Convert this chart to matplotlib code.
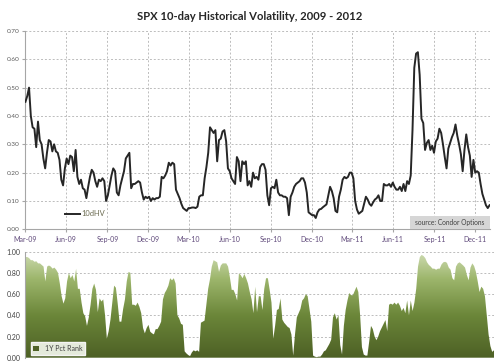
import numpy as np
import pandas as pd
import matplotlib
matplotlib.use("Agg")
import matplotlib.pyplot as plt
import matplotlib.dates as mdates
from matplotlib.colors import LinearSegmentedColormap
from matplotlib.patches import Patch, Rectangle
from matplotlib.ticker import FormatStrFormatter

plt.rcParams['font.family'] = ['Lato', 'DejaVu Sans']

# values on a 4-day grid
dates = pd.date_range('2009-03-02', periods=260, freq='4D')

hv10 = [
    0.45, 0.47, 0.50, 0.40, 0.36, 0.355, 0.29, 0.38, 0.315, 0.30,
    0.25, 0.215, 0.27, 0.315, 0.31, 0.275, 0.30, 0.275, 0.27, 0.245,
    0.175, 0.155, 0.215, 0.25, 0.23, 0.26, 0.255, 0.205, 0.28, 0.185,
    0.16, 0.175, 0.145, 0.14, 0.11, 0.15, 0.185, 0.21, 0.20, 0.17,
    0.15, 0.175, 0.17, 0.18, 0.17, 0.10, 0.12, 0.155, 0.19, 0.215,
    0.205, 0.13, 0.12, 0.155, 0.18, 0.205, 0.25, 0.26, 0.27, 0.145,
    0.16, 0.16, 0.165, 0.17, 0.165,
    0.13, 0.105, 0.115, 0.11, 0.115, 0.10, 0.11, 0.105, 0.11, 0.11,
    0.115, 0.185, 0.18, 0.19, 0.205, 0.235, 0.225, 0.235, 0.23, 0.14,
    0.125, 0.11, 0.09, 0.075, 0.07, 0.065, 0.075, 0.075, 0.077, 0.077,
    0.075, 0.08, 0.115, 0.12, 0.12, 0.18, 0.22, 0.27, 0.36, 0.35,
    0.34, 0.35, 0.24, 0.315, 0.32, 0.345, 0.35, 0.31, 0.215, 0.205,
    0.18, 0.17, 0.16, 0.255, 0.24, 0.17, 0.24, 0.23, 0.24, 0.155,
    0.17, 0.15, 0.20, 0.18,
    0.185, 0.175, 0.22, 0.23, 0.23, 0.21, 0.12, 0.085, 0.145, 0.15,
    0.145, 0.175, 0.13, 0.12, 0.12, 0.115, 0.115, 0.11, 0.05, 0.115,
    0.13, 0.15, 0.16, 0.165, 0.17, 0.18, 0.18, 0.165, 0.13, 0.06,
    0.055, 0.05, 0.05, 0.04, 0.06, 0.07, 0.072, 0.078, 0.083, 0.088,
    0.12, 0.15, 0.135, 0.11, 0.065, 0.06, 0.115, 0.14, 0.175, 0.185,
    0.18, 0.185, 0.20, 0.20, 0.18, 0.10, 0.07, 0.055, 0.06, 0.065,
    0.09, 0.115, 0.105, 0.09,
    0.083, 0.095, 0.105, 0.11, 0.12, 0.10, 0.10, 0.16, 0.155, 0.155,
    0.16, 0.15, 0.165, 0.15, 0.14, 0.14, 0.15, 0.135, 0.16, 0.135,
    0.17, 0.16, 0.19, 0.35, 0.57, 0.62, 0.625, 0.545, 0.39, 0.375,
    0.28, 0.305, 0.315, 0.28, 0.295, 0.27, 0.31, 0.32, 0.355, 0.34,
    0.30, 0.255, 0.215, 0.285, 0.305, 0.325, 0.34, 0.37, 0.33, 0.30,
    0.265, 0.205, 0.28, 0.335, 0.29, 0.26, 0.185, 0.245, 0.20, 0.205,
    0.20, 0.16, 0.125, 0.105, 0.085, 0.075, 0.085,
]

pct_rank = [
    0.95, 0.95, 0.94, 0.92, 0.92, 0.905, 0.91, 0.89, 0.89, 0.875,
    0.86, 0.72, 0.86, 0.87, 0.86, 0.84, 0.85, 0.83, 0.80, 0.70,
    0.58, 0.51, 0.56, 0.72, 0.80, 0.75, 0.78, 0.72, 0.84, 0.65,
    0.65, 0.52, 0.42, 0.39, 0.30, 0.38, 0.50, 0.65, 0.70, 0.64,
    0.43, 0.56, 0.53, 0.55, 0.40, 0.18, 0.25, 0.36, 0.52, 0.68,
    0.66, 0.51, 0.34, 0.34, 0.46, 0.55, 0.72, 0.81, 0.80, 0.50,
    0.50, 0.49, 0.52, 0.48, 0.42,
    0.28, 0.23, 0.28, 0.31, 0.245, 0.23, 0.22, 0.27, 0.27, 0.30,
    0.34, 0.55, 0.61, 0.64, 0.68, 0.75, 0.73, 0.75, 0.70, 0.40,
    0.37, 0.32, 0.31, 0.06, 0.04, 0.025, 0.015, 0.05, 0.07, 0.06,
    0.07, 0.055, 0.33, 0.34, 0.35, 0.50, 0.65, 0.74, 0.86, 0.92,
    0.91, 0.90, 0.81, 0.87, 0.89, 0.89, 0.89, 0.86, 0.76, 0.64,
    0.64, 0.60, 0.54, 0.795, 0.78, 0.75, 0.79, 0.75, 0.70, 0.62,
    0.55, 0.42, 0.67, 0.43,
    0.58, 0.58, 0.45, 0.65, 0.75, 0.75, 0.64, 0.52, 0.18, 0.30,
    0.45, 0.46, 0.56, 0.36, 0.33, 0.31, 0.29, 0.28, 0.22, 0.02,
    0.22, 0.38, 0.42, 0.46, 0.54, 0.56, 0.60, 0.58, 0.46, 0.34,
    0.02, 0.01, 0.005, 0.01, 0.01, 0.03, 0.06, 0.07, 0.10, 0.13,
    0.17, 0.38, 0.42, 0.36, 0.40, 0.12, 0.03, 0.30, 0.45, 0.54,
    0.61, 0.59, 0.59, 0.63, 0.67, 0.62, 0.40, 0.10, 0.03, 0.02,
    0.02, 0.15, 0.30, 0.27,
    0.20, 0.165, 0.20, 0.25, 0.285, 0.32, 0.355, 0.25, 0.50, 0.51,
    0.50, 0.52, 0.50, 0.52, 0.49, 0.44, 0.47, 0.42, 0.54, 0.40,
    0.54, 0.44, 0.52, 0.65, 0.86, 0.95, 0.97, 0.96, 0.94, 0.90,
    0.875, 0.86, 0.84, 0.84, 0.83, 0.84, 0.84, 0.88, 0.90, 0.905,
    0.895, 0.85, 0.83, 0.75, 0.73, 0.86, 0.89, 0.90, 0.885, 0.87,
    0.85, 0.78, 0.73, 0.85, 0.89, 0.865, 0.81, 0.72, 0.62, 0.67,
    0.65, 0.58, 0.40, 0.22, 0.11, 0.055, 0.07,
]

quarter_ticks = pd.date_range('2009-03-01', '2011-12-01', freq='3MS')
tick_labels = [d.strftime('%b-%y') for d in quarter_ticks]

x = mdates.date2num(dates)
x_start = mdates.date2num(pd.Timestamp('2009-03-01'))
x_end = mdates.date2num(pd.Timestamp('2012-01-03'))

fig = plt.figure(figsize=(5, 3.64), dpi=100)
fig.text(0.5, 1 - 16 / 364, 'SPX 10-day Historical Volatility, 2009 - 2012',
         ha='center', va='center', fontsize=8.1, fontweight='bold', color='#262626')

grid_kw = dict(color='#bcbcbc', ls=(0, (2, 2)), lw=0.7)

# top panel: 10-day HV
ax1 = fig.add_axes([0.05, 0.370, 0.93, 0.545])
ax1.plot(x, hv10, color='#262626', lw=1.4, label='10dHV', zorder=3)
ax1.set_xlim(x_start, x_end)
ax1.set_ylim(0, 0.70)
ax1.set_yticks(np.arange(0, 0.71, 0.1))
ax1.yaxis.set_major_formatter(FormatStrFormatter('%.2f'))
ax1.set_xticks(mdates.date2num(quarter_ticks))
ax1.set_xticklabels(tick_labels)
ax1.grid(True, **grid_kw)
ax1.set_axisbelow(True)
for s in ['top', 'right']:
    ax1.spines[s].set_visible(False)
for s in ['left', 'bottom']:
    ax1.spines[s].set_color('#a6a6a6')
    ax1.spines[s].set_linewidth(0.8)
ax1.tick_params(axis='y', labelsize=4.6, labelcolor='#595959', length=2, color='#a6a6a6', pad=2)
ax1.tick_params(axis='x', labelsize=5, labelcolor='#604a7b', length=2, color='#a6a6a6', pad=3)

ax1.legend(loc='lower left', bbox_to_anchor=(0.08, 0.045), frameon=False,
           fontsize=5.4, handlelength=2.0, handletextpad=0.2,
           labelcolor='#6b6b50', borderaxespad=0)

ax1.add_patch(Rectangle((0.828, 0.003), 0.172, 0.066, transform=ax1.transAxes,
                        facecolor='#d6d6d6', edgecolor='none', zorder=4))
ax1.text(0.914, 0.036, 'source: Condor Options', transform=ax1.transAxes,
         ha='center', va='center', fontsize=4.8, color='#404040', zorder=5)

# bottom panel: 1Y percentile rank with vertical gradient fill
ax2 = fig.add_axes([0.05, 0.0173, 0.938, 0.2912])
ax2.set_xlim(x_start, x[-1])
ax2.set_ylim(0, 1.0)
ax2.set_yticks(np.arange(0, 1.01, 0.2))
ax2.yaxis.set_major_formatter(FormatStrFormatter('%.2f'))
ax2.set_xticks([])
ax2.yaxis.grid(True, **grid_kw)
ax2.set_axisbelow(True)
for s in ['top', 'right', 'bottom']:
    ax2.spines[s].set_visible(False)
ax2.spines['left'].set_color('#a6a6a6')
ax2.spines['left'].set_linewidth(0.8)
ax2.tick_params(axis='y', labelsize=5, labelcolor='#404040', length=0, pad=3)

cmap = LinearSegmentedColormap.from_list(
    'olive', [(0, '#4d6025'), (0.4, '#6b8639'), (0.75, '#9db66c'), (1.0, '#cfdcb3')])
grad = np.linspace(0, 1, 256).reshape(-1, 1)
im = ax2.imshow(grad, extent=[x_start, x[-1], 0, 1], origin='lower', aspect='auto',
                cmap=cmap, zorder=2)
poly = ax2.fill_between(x, 0, pct_rank, facecolor='none', edgecolor='none')
im.set_clip_path(poly.get_paths()[0], transform=ax2.transData)

leg = ax2.legend(handles=[Patch(facecolor='#4f6228', label='1Y Pct Rank')],
                 loc='lower left', bbox_to_anchor=(0.012, 0.03), fontsize=5,
                 handlelength=0.8, handleheight=0.8, frameon=True, fancybox=False,
                 framealpha=1, borderaxespad=0, labelcolor='#404040')
leg.get_frame().set_facecolor('#e4eadb')
leg.get_frame().set_edgecolor('#f4f4f4')
leg.set_zorder(5)

fig.savefig('out.png', dpi=100)
